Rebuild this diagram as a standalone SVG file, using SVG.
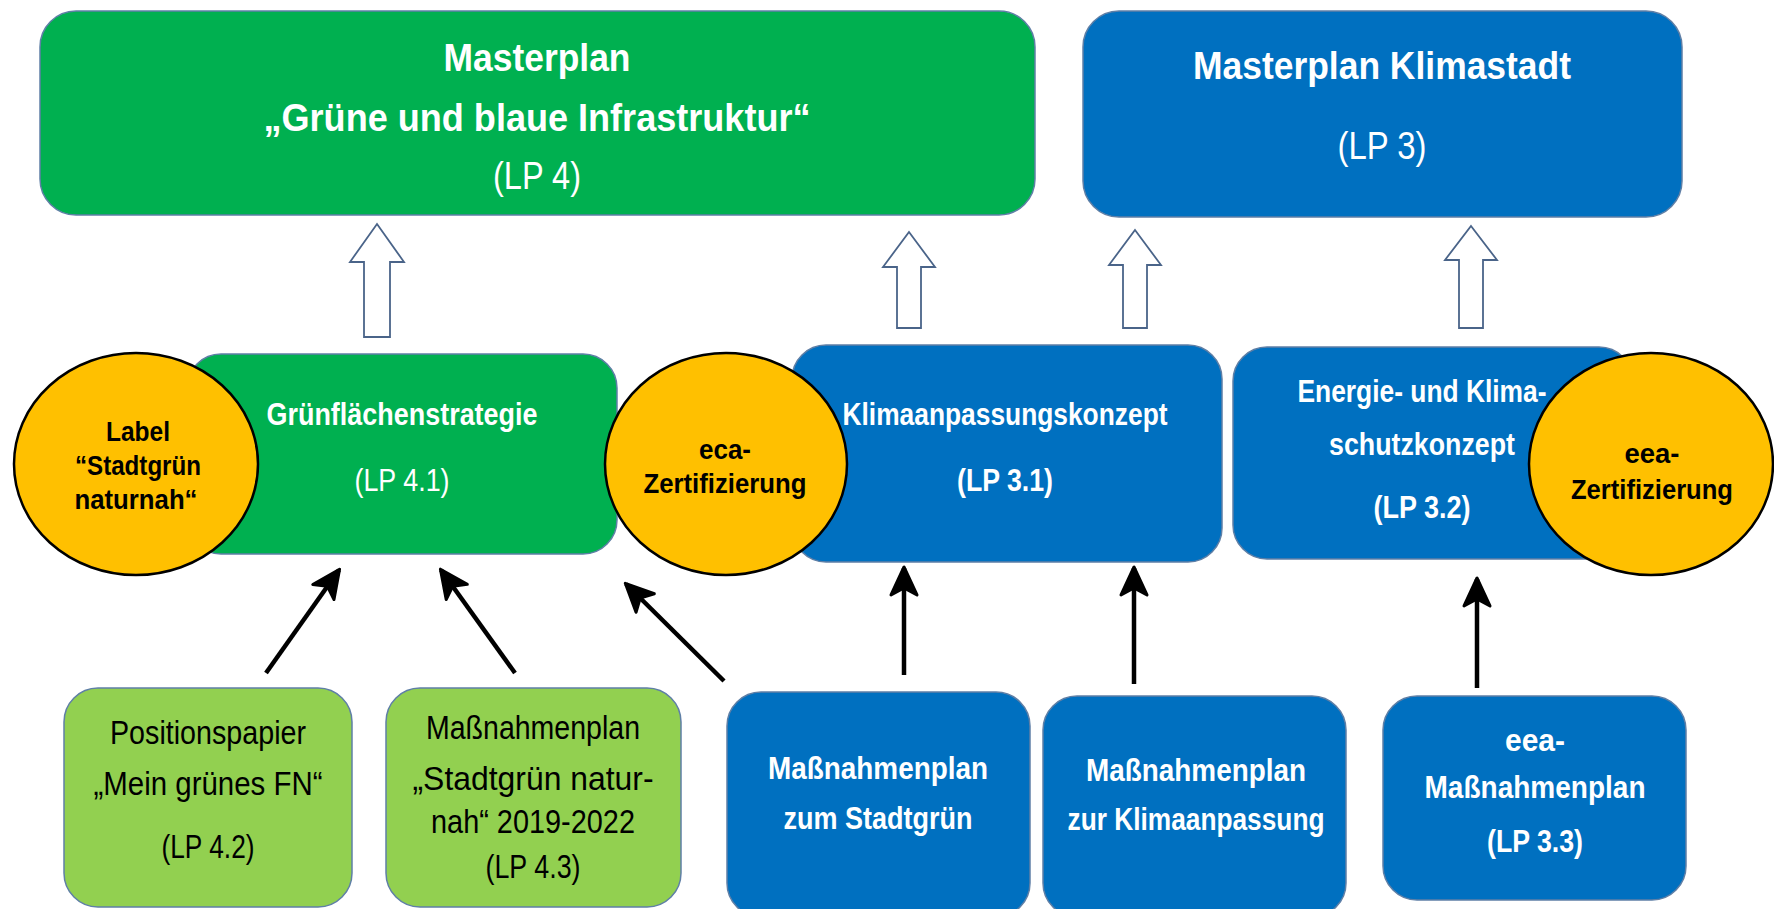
<svg xmlns="http://www.w3.org/2000/svg" width="1774" height="909" viewBox="0 0 1774 909">
<style>
.box{stroke:#5f7fa6;stroke-width:1.5}
.g{fill:#00b050}.b{fill:#0070c0}.l{fill:#92d050}
.el{fill:#ffc000;stroke:#000;stroke-width:2.5}
.t{font-family:"Liberation Sans",Arial,sans-serif;text-anchor:middle}
.w{fill:#fff}.k{fill:#000}
.bd{font-weight:bold}
.hollow{fill:#fff;stroke:#4a6489;stroke-width:1.8}
.ln{stroke:#000;stroke-width:4.5;fill:none;marker-end:url(#ah)}
</style>
<defs>
<marker id="ah" markerUnits="userSpaceOnUse" markerWidth="36" markerHeight="34" viewBox="-32 -17 36 34" refX="0" refY="0" orient="auto">
<path d="M1,0 L-27,-13 L-20,0 L-27,13 Z" fill="#000" stroke="#000" stroke-width="3" stroke-linejoin="round"/>
</marker>
</defs>
<rect width="1774" height="909" fill="#fff"/>

<g id="connectors">
<path class="hollow" d="M377,224 L404,262 L390,262 L390,337 L364,337 L364,262 L350,262 Z"/>
<path class="hollow" d="M909,232 L935,267 L921,267 L921,328 L897,328 L897,267 L883,267 Z"/>
<path class="hollow" d="M1135,230 L1161,265 L1147,265 L1147,328 L1123,328 L1123,265 L1109,265 Z"/>
<path class="hollow" d="M1471,226 L1497,260 L1483,260 L1483,328 L1459,328 L1459,260 L1445,260 Z"/>
<line class="ln" x1="266" y1="673" x2="339" y2="570"/>
<line class="ln" x1="515" y1="673" x2="441" y2="570"/>
<line class="ln" x1="724" y1="681" x2="626" y2="584"/>
<line class="ln" x1="904" y1="675" x2="904" y2="568"/>
<line class="ln" x1="1134" y1="684" x2="1134" y2="568"/>
<line class="ln" x1="1477" y1="688" x2="1477" y2="579"/>
</g>

<g id="lp4">
<rect class="box g" x="40" y="11" width="995" height="204" rx="36"/>
<text class="t w bd" x="537" y="71" font-size="38" textLength="187" lengthAdjust="spacingAndGlyphs">Masterplan</text>
<text class="t w bd" x="537" y="131" font-size="38" textLength="547" lengthAdjust="spacingAndGlyphs">„Grüne und blaue Infrastruktur“</text>
<text class="t w" x="537" y="189" font-size="38" textLength="88" lengthAdjust="spacingAndGlyphs">(LP 4)</text>
</g>

<g id="lp3">
<rect class="box b" x="1083" y="11" width="599" height="206" rx="36"/>
<text class="t w bd" x="1382" y="79" font-size="38" textLength="378" lengthAdjust="spacingAndGlyphs">Masterplan Klimastadt</text>
<text class="t w" x="1382" y="159" font-size="38" textLength="89" lengthAdjust="spacingAndGlyphs">(LP 3)</text>
</g>

<g id="lp41">
<rect class="box g" x="187" y="354" width="430" height="200" rx="34"/>
<text class="t w bd" x="402" y="425" font-size="32" textLength="271" lengthAdjust="spacingAndGlyphs">Grünflächenstrategie</text>
<text class="t w" x="402" y="491" font-size="32" textLength="95" lengthAdjust="spacingAndGlyphs">(LP 4.1)</text>
</g>

<g id="lp31">
<rect class="box b" x="792" y="345" width="430" height="217" rx="34"/>
<text class="t w bd" x="1005" y="425" font-size="32" textLength="325" lengthAdjust="spacingAndGlyphs">Klimaanpassungskonzept</text>
<text class="t w bd" x="1005" y="491" font-size="32" textLength="96" lengthAdjust="spacingAndGlyphs">(LP 3.1)</text>
</g>

<g id="lp32">
<rect class="box b" x="1233" y="347" width="400" height="212" rx="34"/>
<text class="t w bd" x="1422" y="402" font-size="32" textLength="249" lengthAdjust="spacingAndGlyphs">Energie- und Klima-</text>
<text class="t w bd" x="1422" y="455" font-size="32" textLength="186" lengthAdjust="spacingAndGlyphs">schutzkonzept</text>
<text class="t w bd" x="1422" y="518" font-size="32" textLength="97" lengthAdjust="spacingAndGlyphs">(LP 3.2)</text>
</g>

<g id="label-stadtgruen">
<ellipse class="el" cx="136" cy="464" rx="122" ry="111"/>
<text class="t k bd" x="138" y="441" font-size="27" textLength="64" lengthAdjust="spacingAndGlyphs">Label</text>
<text class="t k bd" x="138" y="475" font-size="27" textLength="126" lengthAdjust="spacingAndGlyphs">“Stadtgrün</text>
<text class="t k bd" x="136" y="509" font-size="27" textLength="123" lengthAdjust="spacingAndGlyphs">naturnah“</text>
</g>

<g id="eca">
<ellipse class="el" cx="726" cy="464" rx="121" ry="111"/>
<text class="t k bd" x="725" y="459" font-size="27" textLength="52" lengthAdjust="spacingAndGlyphs">eca-</text>
<text class="t k bd" x="725" y="493" font-size="27" textLength="163" lengthAdjust="spacingAndGlyphs">Zertifizierung</text>
</g>

<g id="eea">
<ellipse class="el" cx="1651" cy="464" rx="122" ry="111"/>
<text class="t k bd" x="1652" y="463" font-size="27" textLength="55" lengthAdjust="spacingAndGlyphs">eea-</text>
<text class="t k bd" x="1652" y="499" font-size="27" textLength="162" lengthAdjust="spacingAndGlyphs">Zertifizierung</text>
</g>

<g id="lp42">
<rect class="box l" x="64" y="688" width="288" height="219" rx="34"/>
<text class="t k" x="208" y="744" font-size="33" textLength="196" lengthAdjust="spacingAndGlyphs">Positionspapier</text>
<text class="t k" x="208" y="795" font-size="33" textLength="229" lengthAdjust="spacingAndGlyphs">„Mein grünes FN“</text>
<text class="t k" x="208" y="858" font-size="33" textLength="93" lengthAdjust="spacingAndGlyphs">(LP 4.2)</text>
</g>

<g id="lp43">
<rect class="box l" x="386" y="688" width="295" height="219" rx="34"/>
<text class="t k" x="533" y="739" font-size="33" textLength="214" lengthAdjust="spacingAndGlyphs">Maßnahmenplan</text>
<text class="t k" x="533" y="790" font-size="33" textLength="241" lengthAdjust="spacingAndGlyphs">„Stadtgrün natur-</text>
<text class="t k" x="533" y="833" font-size="33" textLength="204" lengthAdjust="spacingAndGlyphs">nah“ 2019-2022</text>
<text class="t k" x="533" y="878" font-size="33" textLength="95" lengthAdjust="spacingAndGlyphs">(LP 4.3)</text>
</g>

<g id="mp-stadtgruen">
<rect class="box b" x="727" y="692" width="303" height="225" rx="34"/>
<text class="t w bd" x="878" y="779" font-size="32" textLength="220" lengthAdjust="spacingAndGlyphs">Maßnahmenplan</text>
<text class="t w bd" x="878" y="829" font-size="32" textLength="189" lengthAdjust="spacingAndGlyphs">zum Stadtgrün</text>
</g>

<g id="mp-klima">
<rect class="box b" x="1043" y="696" width="303" height="221" rx="34"/>
<text class="t w bd" x="1196" y="781" font-size="32" textLength="220" lengthAdjust="spacingAndGlyphs">Maßnahmenplan</text>
<text class="t w bd" x="1196" y="830" font-size="32" textLength="257" lengthAdjust="spacingAndGlyphs">zur Klimaanpassung</text>
</g>

<g id="lp33">
<rect class="box b" x="1383" y="696" width="303" height="204" rx="34"/>
<text class="t w bd" x="1535" y="751" font-size="32" textLength="60" lengthAdjust="spacingAndGlyphs">eea-</text>
<text class="t w bd" x="1535" y="798" font-size="32" textLength="221" lengthAdjust="spacingAndGlyphs">Maßnahmenplan</text>
<text class="t w bd" x="1535" y="852" font-size="32" textLength="96" lengthAdjust="spacingAndGlyphs">(LP 3.3)</text>
</g>
</svg>
